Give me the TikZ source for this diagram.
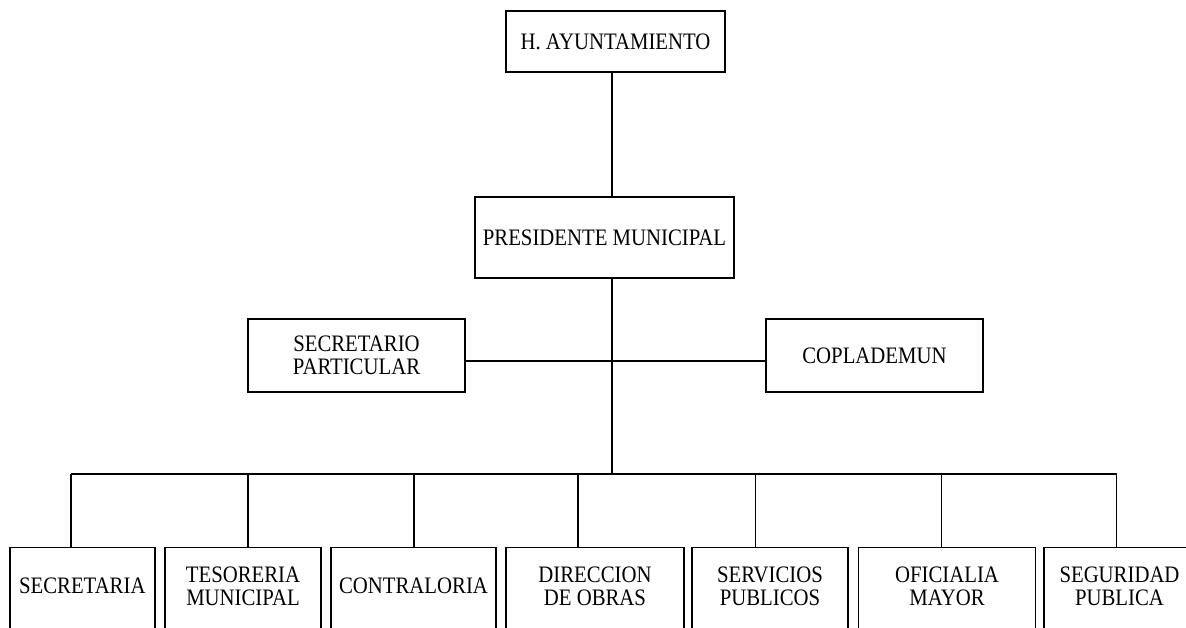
\documentclass[tikz,border=0pt]{standalone}
\usepackage{fontspec}
\setmainfont[FakeStretch=0.88]{Liberation Serif}
\begin{document}
\begin{tikzpicture}[x=1pt,y=-1pt,
  orgbox/.style={draw=black, line width=1.4pt, rectangle, inner sep=0pt, align=center,
    font=\fontsize{23.6pt}{22.7pt}\selectfont},
  lowbox/.style={draw=black, line width=1.4pt, rectangle, inner sep=0pt,
    minimum height=95pt, anchor=north},
  lbl/.style={inner sep=0pt, align=center, font=\fontsize{23.6pt}{22.7pt}\selectfont},
  link/.style={line width=1.4pt, black}]
\useasboundingbox (0,0) rectangle (1186,628);
\fill[white] (0,0) rectangle (1186,628);
\clip (0,0) rectangle (1186,628);

% upper boxes
\node[orgbox, minimum width=219pt, minimum height=61pt] (ayto) at (615.5,41.5) {H. AYUNTAMIENTO};
\node[orgbox, minimum width=259pt, minimum height=81pt] (pres) at (604.5,237.5) {PRESIDENTE MUNICIPAL};
\node[orgbox, minimum width=217pt, minimum height=73pt] (secp) at (356.5,355.5) {SECRETARIO\\PARTICULAR};
\node[orgbox, minimum width=217pt, minimum height=73pt] (copl) at (874.5,355.5) {COPLADEMUN};

% lower boxes (open at the bottom edge of the picture)
\node[lowbox, minimum width=145pt] (sec)  at (82.3,547) {};
\node[lowbox, minimum width=156pt] (tes)  at (243,547) {};
\node[lowbox, minimum width=165pt] (con)  at (413.5,547) {};
\node[lowbox, minimum width=178pt] (dir)  at (595,547) {};
\node[lowbox, minimum width=156pt] (ser)  at (770,547) {};
\node[lowbox, minimum width=177pt] (ofi)  at (947,547) {};
\node[lowbox, minimum width=170pt] (seg)  at (1129,547) {};

\node[lbl] (sec-t) at (82.3,586) {SECRETARIA};
\node[lbl] (tes-t) at (243,586) {TESORERIA\\MUNICIPAL};
\node[lbl] (con-t) at (413.5,586) {CONTRALORIA};
\node[lbl] (dir-t) at (595,586) {DIRECCION\\DE OBRAS};
\node[lbl] (ser-t) at (770,586) {SERVICIOS\\PUBLICOS};
\node[lbl] (ofi-t) at (947,586) {OFICIALIA\\MAYOR};
\node[lbl] (seg-t) at (1119.5,586) {SEGURIDAD\\PUBLICA};

% connector points
\coordinate (trunk) at (612,474);
\coordinate (mid) at (612,361);
\coordinate (b1) at (71,474);
\coordinate (b2) at (248,474);
\coordinate (b3) at (414,474);
\coordinate (b4) at (578,474);
\coordinate (b5) at (755.5,474);
\coordinate (b6) at (941.5,474);
\coordinate (b7) at (1116.5,474);

% connectors
\draw[link] (trunk |- ayto.south) -- (trunk |- pres.north);
\draw[link] (trunk |- pres.south) -- (trunk);
\draw[link] (mid -| secp.east) -- (mid -| copl.west);
\draw[link] (b1) -- (b7);
\draw[link] (b1) -- (b1 |- sec.north);
\draw[link] (b2) -- (b2 |- tes.north);
\draw[link] (b3) -- (b3 |- con.north);
\draw[link] (b4) -- (b4 |- dir.north);
\draw[link] (b5) -- (b5 |- ser.north);
\draw[link] (b6) -- (b6 |- ofi.north);
\draw[link] (b7) -- (b7 |- seg.north);
\end{tikzpicture}
\end{document}
